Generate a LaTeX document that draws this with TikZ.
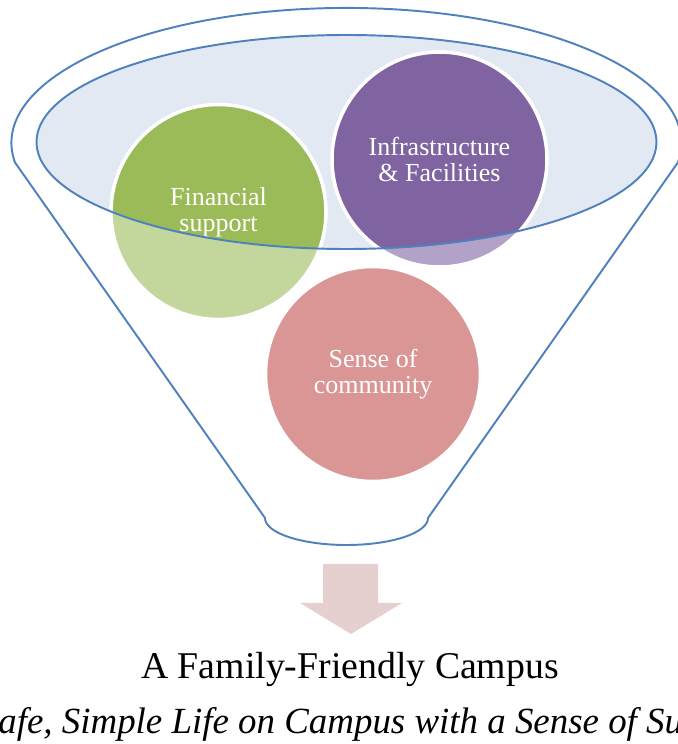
\documentclass[tikz,border=0pt]{standalone}
\usepackage{fontspec}
\setmainfont{Liberation Serif}
\usetikzlibrary{positioning,backgrounds}
\definecolor{rimblue}{RGB}{79,129,189}
\definecolor{rimfill}{RGB}{227,233,243}
\definecolor{bgreen}{RGB}{155,187,89}
\definecolor{bgreenlt}{RGB}{195,214,155}
\definecolor{bpurple}{RGB}{128,100,162}
\definecolor{bpurplelt}{RGB}{179,162,199}
\definecolor{bredlt}{RGB}{217,150,148}
\definecolor{arrowpink}{RGB}{230,207,207}
\tikzset{
  funnel/.style ={draw=rimblue, line width=1.1pt, line join=round},
  rim/.style    ={draw=rimblue, line width=1.1pt},
  bubble/.style ={circle, draw=white, line width=2pt, minimum size=4.30cm,
                  inner sep=0pt, text=white, align=center,
                  font=\fontsize{14.8}{14.8}\selectfont},
  bigarrow/.style={fill=arrowpink},
  caption/.style ={inner sep=0pt, font=\fontsize{21.5}{24}\selectfont},
  subcaption/.style={inner sep=0pt, font=\fontsize{21}{24}\selectfont\itshape},
}

\begin{document}
\begin{tikzpicture}
  \useasboundingbox (0,0) rectangle (13.56,14.88);
  \clip (0,0) rectangle (13.56,14.88);

  % the three bubbles, labels on top
  \node[bubble] (fin)  at (4.37,10.64) {Financial\\support};
  \node[bubble] (infra) at (8.79,11.69) {Infrastructure\\\& Facilities};
  \node[bubble] (comm) at (7.46,7.40)  {Sense of\\community};

  \begin{scope}[on background layer]
    % funnel body
    \draw[funnel] (0.30,11.63)
      arc[start angle=188.34, end angle=-8.34, x radius=6.70, y radius=2.70]
      -- (8.56,4.52)
      arc[start angle=0, end angle=-180, x radius=1.63, y radius=0.54]
      -- cycle;
    \fill[rimfill] (6.93,12.04) ellipse[x radius=6.20, y radius=2.14];
    % lighter parts below the rim
    \fill[bgreenlt]  (fin)   circle (2.13);
    \fill[bpurplelt] (infra) circle (2.13);
    \fill[bredlt]    (comm)  circle (2.13);
    \begin{scope}
      \clip (6.93,12.04) ellipse[x radius=6.20, y radius=2.14];
      \fill[bgreen]  (fin)   circle (2.13);
      \fill[bpurple] (infra) circle (2.13);
    \end{scope}
  \end{scope}

  % rim line over the bubbles
  \draw[rim] (6.93,12.04) ellipse[x radius=6.20, y radius=2.14];

  % down arrow
  \fill[bigarrow] (6.46,3.60) -- (7.56,3.60) -- (7.56,2.82) -- (8.04,2.82)
    -- (7.02,2.20) -- (6.00,2.82) -- (6.46,2.82) -- cycle;

  \node[caption, anchor=base] (title) at (7.00,1.30) {A Family-Friendly Campus};
  \node[subcaption, anchor=base west] (motto) at (-0.04,0.22)
    {afe, Simple Life on Campus with a Sense of Su};
\end{tikzpicture}
\end{document}
